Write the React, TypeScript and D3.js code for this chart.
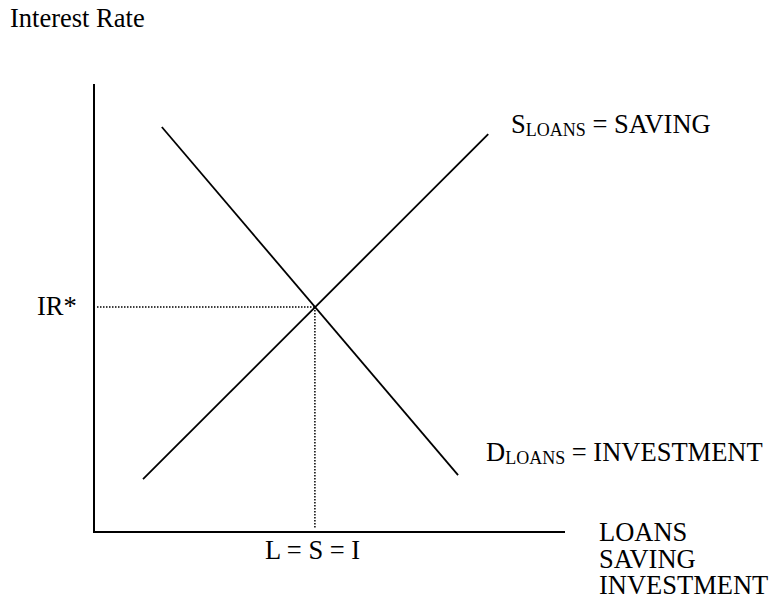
import React from "react";
import * as d3 from "d3";

const W = 771;
const H = 609;

// Data (in abstract chart units: quantity 0..10, interest rate 0..10)
const supplyQ = [1.04, 8.37];
const supplyR = [1.18, 8.88];
const demandQ = [1.44, 7.73];
const demandR = [9.04, 1.27];
const equilibriumQ = [4.69];
const equilibriumR = [5.02];
const axisTitleY = ["Interest Rate"];
const axisTitleX = ["LOANS", "SAVING", "INVESTMENT"];
const eqLabelY = ["IR*"];
const eqLabelX = ["L = S = I"];

const FONT = "'Liberation Serif', 'Times New Roman', serif";
const FS = 26.5;
const SUB = 18;

export default function App() {
  const x = d3.scaleLinear().domain([0, 10]).range([94, 565]);
  const y = d3.scaleLinear().domain([0, 10]).range([532, 84]);
  const line = d3
    .line<[number, number]>()
    .x((d) => x(d[0]))
    .y((d) => y(d[1]));

  const supply: [number, number][] = supplyQ.map((q, i) => [q, supplyR[i]]);
  const demand: [number, number][] = demandQ.map((q, i) => [q, demandR[i]]);
  const eq = [equilibriumQ[0], equilibriumR[0]];

  return (
    <svg
      width={W}
      height={H}
      style={{ position: "absolute", left: 0, top: 0, background: "#fff" }}
      fontFamily={FONT}
    >
      <rect width={W} height={H} fill="#fff" />
      {/* axes */}
      <line x1={x(0)} y1={y(10)} x2={x(0)} y2={y(0) + 1} stroke="#000" strokeWidth={2} />
      <line x1={x(0) - 1} y1={y(0)} x2={x(10)} y2={y(0)} stroke="#000" strokeWidth={2} />

      {/* dotted guides */}
      <line
        x1={x(0) + 3}
        y1={y(eq[1])}
        x2={x(eq[0])}
        y2={y(eq[1])}
        stroke="#000"
        strokeWidth={1.5}
        strokeDasharray="1.5,1.5"
      />
      <line
        x1={x(eq[0])}
        y1={y(eq[1])}
        x2={x(eq[0])}
        y2={y(0) - 4}
        stroke="#000"
        strokeWidth={1.5}
        strokeDasharray="1.5,1.5"
      />

      {/* curves */}
      <path d={line(supply) || ""} fill="none" stroke="#000" strokeWidth={1.8} />
      <path d={line(demand) || ""} fill="none" stroke="#000" strokeWidth={1.8} />

      {/* labels */}
      <text x={10} y={27} fontSize={FS} fill="#000">
        {axisTitleY[0]}
      </text>
      <text x={37} y={315} fontSize={FS} fill="#000">
        {eqLabelY[0]}
      </text>
      <text x={265} y={559} fontSize={FS} fill="#000">
        {eqLabelX[0]}
      </text>
      <text x={511} y={133} fontSize={FS} fill="#000">
        S
        <tspan fontSize={SUB} dy={3}>LOANS</tspan>
        <tspan dy={-3}> = SAVING</tspan>
      </text>
      <text x={486} y={461} fontSize={FS} fill="#000">
        D
        <tspan fontSize={SUB} dy={3}>LOANS</tspan>
        <tspan dy={-3}> = INVESTMENT</tspan>
      </text>
      {axisTitleX.map((t, i) => (
        <text key={t} x={599} y={541 + i * 26.5} fontSize={FS} fill="#000">
          {t}
        </text>
      ))}
    </svg>
  );
}
